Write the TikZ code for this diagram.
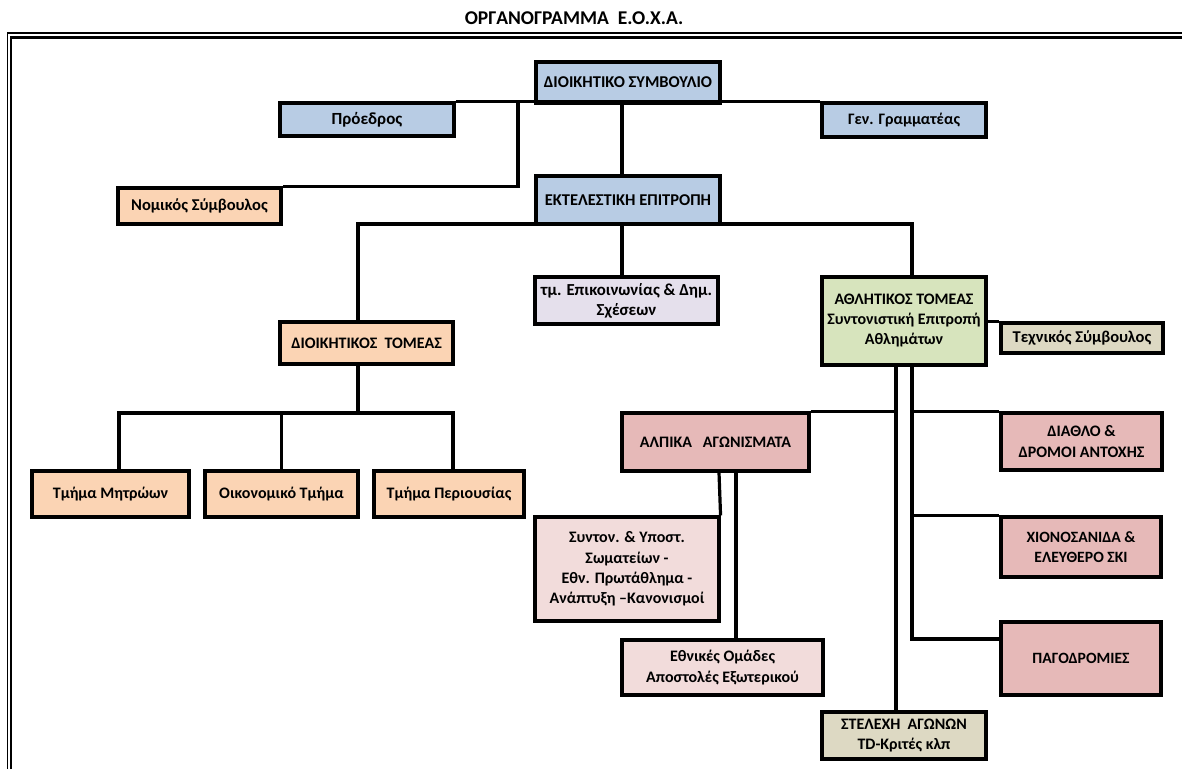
\documentclass[tikz,border=0pt]{standalone}
\usepackage{fontspec}
\setmainfont{Carlito}
\usetikzlibrary{calc}
\definecolor{cblue}{HTML}{B8CCE4}
\definecolor{cpeach}{HTML}{FBD4B4}
\definecolor{clav}{HTML}{E5E0EC}
\definecolor{cgreen}{HTML}{D7E4BD}
\definecolor{ctan}{HTML}{DDD9C3}
\definecolor{crose}{HTML}{E6B9B8}
\definecolor{cpink}{HTML}{F2DCDB}
\tikzset{
  orgbox/.style={draw=black, line width=3.1pt, rectangle, inner sep=0pt, align=center,
    font=\bfseries\fontsize{16}{20.3}\selectfont, text=black},
  fs/.style={font=\bfseries\fontsize{#1}{20}\selectfont},
  conn/.style={draw=black, line width=3.2pt},
}
\begin{document}
\begin{tikzpicture}[x=1pt,y=-1pt]
\useasboundingbox (0,0) rectangle (1182,769);
% frame
\draw[line width=1.3pt] (7.7,769) -- (7.7,33) -- (1182,33);
\draw[line width=2.4pt] (11,769) -- (11,37.5) -- (1182,37.5);
\node[font=\bfseries\fontsize{19.5}{22}\selectfont] (title) at (574,18) {ΟΡΓΑΝΟΓΡΑΜΜΑ\ \ Ε.Ο.Χ.Α.};
% boxes
\node[orgbox, fs=16.5, fill=cblue, minimum width=184pt, minimum height=41pt] (ds) at (628,82.5) {\raisebox{-3pt}{ΔΙΟΙΚΗΤΙΚΟ ΣΥΜΒΟΥΛΙΟ}};
\node[orgbox, fs=17, fill=cblue, minimum width=174pt, minimum height=33pt] (pr) at (367,119.5) {\raisebox{-2pt}{Πρόεδρος}};
\node[orgbox, fs=16, fill=cblue, minimum width=164pt, minimum height=34pt] (gg) at (904,120) {\raisebox{-2pt}{Γεν. Γραμματέας}};
\node[orgbox, fs=16.5, fill=cpeach, minimum width=163pt, minimum height=36pt] (nom) at (199.5,206) {Νομικός Σύμβουλος};
\node[orgbox, fs=16.5, fill=cblue, minimum width=184pt, minimum height=48pt] (ee) at (628,200) {ΕΚΤΕΛΕΣΤΙΚΗ ΕΠΙΤΡΟΠΗ};
\node[orgbox, fs=16.8, fill=clav, minimum width=183pt, minimum height=47pt] (epi) at (626.5,300.5) {τμ. Επικοινωνίας \& Δημ.\\Σχέσεων};
\node[orgbox, fs=16, fill=cgreen, minimum width=164pt, minimum height=88pt] (ath) at (904,321) {ΑΘΛΗΤΙΚΟΣ ΤΟΜΕΑΣ\\Συντονιστική Επιτροπή\\Αθλημάτων};
\node[orgbox, fs=16.5, fill=ctan, minimum width=162pt, minimum height=30pt] (tech) at (1082,338) {Τεχνικός Σύμβουλος};
\node[orgbox, fill=cpeach, minimum width=173pt, minimum height=42pt] (dt) at (366.5,343) {ΔΙΟΙΚΗΤΙΚΟΣ\ \ ΤΟΜΕΑΣ};
\node[orgbox, fill=cpeach, minimum width=157pt, minimum height=46pt] (m1) at (110.5,494) {Τμήμα Μητρώων};
\node[orgbox, fill=cpeach, minimum width=153pt, minimum height=46pt] (m2) at (281.5,494) {Οικονομικό Τμήμα};
\node[orgbox, fill=cpeach, minimum width=150pt, minimum height=46pt] (m3) at (449,494) {Τμήμα Περιουσίας};
\node[orgbox, fill=crose, minimum width=187pt, minimum height=58pt] (alp) at (715.5,442) {ΑΛΠΙΚΑ\ \ \ ΑΓΩΝΙΣΜΑΤΑ};
\node[orgbox, fill=crose, minimum width=161pt, minimum height=57pt] (dia) at (1081.5,441.5) {ΔΙΑΘΛΟ \&\\ΔΡΟΜΟΙ ΑΝΤΟΧΗΣ};
\node[orgbox, fill=cpink, minimum width=184pt, minimum height=104pt] (syn) at (627,569) {Συντον. \& Υποστ.\\Σωματείων -\\Εθν. Πρωτάθλημα -\\Ανάπτυξη –Κανονισμοί};
\node[orgbox, fs=15.7, fill=crose, minimum width=160pt, minimum height=60pt] (xio) at (1081,547) {ΧΙΟΝΟΣΑΝΙΔΑ \&\\ΕΛΕΥΘΕΡΟ ΣΚΙ};
\node[orgbox, fill=cpink, minimum width=201pt, minimum height=55pt] (eth) at (722.5,667.5) {Εθνικές Ομάδες\\Αποστολές Εξωτερικού};
\node[orgbox, fs=15.7, fill=crose, minimum width=160pt, minimum height=73pt] (pag) at (1081,658.5) {ΠΑΓΟΔΡΟΜΙΕΣ};
\node[orgbox, fill=ctan, minimum width=164pt, minimum height=47pt] (ste) at (904,735.5) {ΣΤΕΛΕΧΗ\ \ ΑΓΩΝΩΝ\\TD-Κριτές κλπ};
% junction coordinates
\coordinate (x1) at (622,0);
\coordinate (jn) at (518,103);
\coordinate (eL) at (358,224);
\coordinate (eR) at (912,224);
\coordinate (dB) at (358,413);
\coordinate (dL) at (119,413);
\coordinate (dR) at (453,413);
\coordinate (aL) at (896,0);
\coordinate (aR) at (912,0);
\coordinate (pj) at (912,639);
\coordinate (c1) at (719,0);
\coordinate (c2) at (736,0);
% connectors
\draw[conn] (pr.north east) -- (gg.north west);
\draw[conn] (jn) |- (nom.north east);
\draw[conn] (ds.south -| x1) -- (ee.north -| x1);
\draw[conn] (dt.north -| eL) -- (eL) -- (eR) -- (ath.north -| eR);
\draw[conn] (ee.south -| x1) -- (epi.north -| x1);
\draw[conn] (dt.south -| dB) -- (dB);
\draw[conn] (m1.north -| dL) -- (dL) -- (dR) -- (m3.north -| dR);
\draw[conn] (m2.north) -- (m2.north |- dB);
\draw[conn] (ath.east |- tech.north) -- (tech.north west);
\draw[conn] (ath.south -| aL) -- (ste.north -| aL);
\draw[conn] (alp.north east) -- ($(alp.north east -| aL)+(1.4,0)$);
\draw[conn] (ath.south -| aR) -- (pj) -- (pag.west |- pj);
\draw[conn] (dia.north west) -- (dia.north west -| aR);
\draw[conn] (xio.north west) -- (xio.north west -| aR);
\draw[conn] (alp.south -| c1) -- (syn.north east);
\draw[conn] (alp.south -| c2) -- (eth.north -| c2);
\end{tikzpicture}
\end{document}
